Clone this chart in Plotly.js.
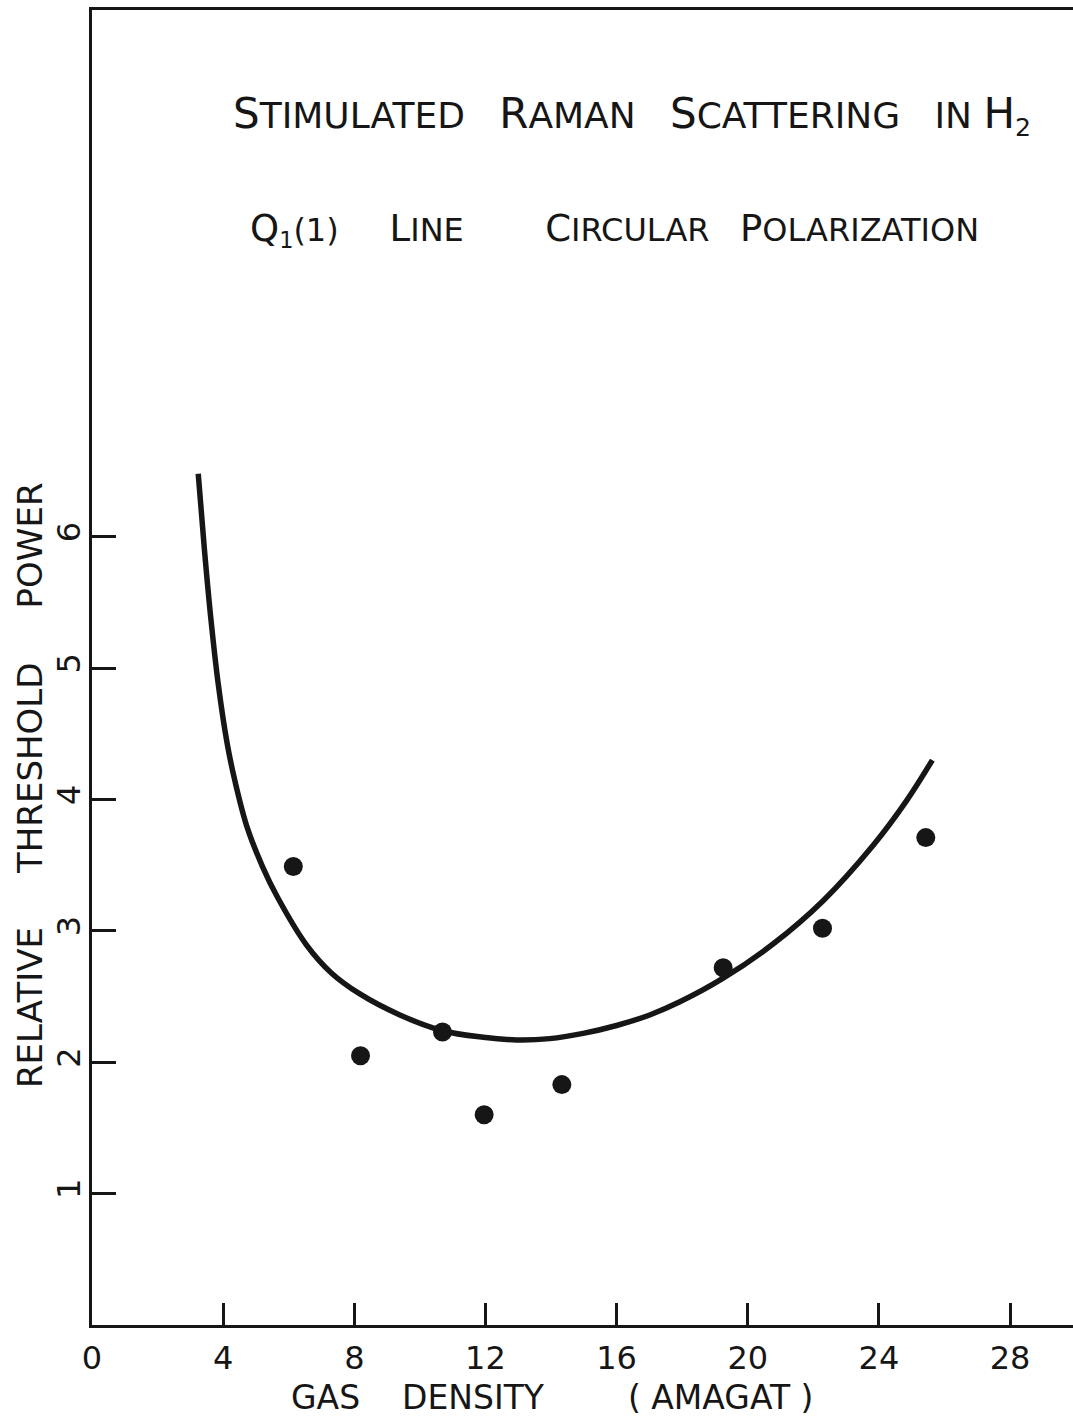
<!DOCTYPE html>
<html>
<head>
<meta charset="utf-8">
<script src="https://cdn.plot.ly/plotly-3.0.1.min.js"></script>
<style>html,body{margin:0;padding:0;background:#fff;}#chart{width:1073px;height:1417px;}</style>
</head>
<body>
<div id="chart"></div>
<script>
// Fitted curve
const curveX = [3.24, 3.43, 3.62, 3.85, 4.12, 4.37, 4.73, 5.20, 5.65, 6.55, 7.30, 8.17, 9.39, 10.69, 11.93, 12.95, 13.96, 14.98, 16.00, 17.01, 17.93, 19.25, 20.77, 22.30, 23.82, 24.84, 25.63];
const curveY = [6.48, 5.90, 5.39, 4.88, 4.43, 4.13, 3.79, 3.49, 3.26, 2.89, 2.68, 2.52, 2.36, 2.24, 2.19, 2.17, 2.18, 2.22, 2.28, 2.36, 2.46, 2.64, 2.90, 3.23, 3.65, 3.99, 4.30];
// Measured points
const pointX = [6.14, 8.19, 10.69, 11.96, 14.33, 19.25, 22.28, 25.43];
const pointY = [3.49, 2.05, 2.23, 1.60, 1.83, 2.72, 3.02, 3.71];
// Ticks
const xTicks = [0, 4, 8, 12, 16, 20, 24, 28];
const xTickText = ["0", "4", "8", "12", "16", "20", "24", "28"];
const yTicks = [1, 2, 3, 4, 5, 6];
const yTickText = ["1", "2", "3", "4", "5", "6"];
// Texts
const NB = "\u00a0";
const sp = n => NB.repeat(n);
const big1 = s => '<span style="font-size:42px">' + s + '</span>';
const big2 = s => '<span style="font-size:37px">' + s + '</span>';
const titleLine1 = big1("S") + "TIMULATED" + sp(3) + big1("R") + "AMAN" + sp(3) + big1("S") + "CATTERING" + sp(3) + "IN" + sp(1) + big1("H") + "<sub>2</sub>";
const titleLine2 = big2("Q") + "<sub>1</sub>(1)" + sp(5) + big2("L") + "INE" + sp(8) + big2("C") + "IRCULAR" + sp(3) + big2("P") + "OLARIZATION";
const xTitle = "GAS" + sp(4) + "DENSITY" + sp(8) + "(" + sp(1) + "AMAGAT" + sp(1) + ")";
const yTitle = "RELATIVE" + sp(5) + "THRESHOLD" + sp(5) + "POWER";

const FONT = "DejaVu Sans, Liberation Sans, sans-serif";
const INK = "#161616";

// pixel helpers for annotation placement (plot area: l=92, t=10, w=981, h=1315)
const px = v => (v - 92) / 981;
const py = v => (1325 - v) / 1315;

const traces = [
  {
    x: curveX, y: curveY, type: "scatter", mode: "lines",
    line: {color: INK, width: 5.5, shape: "spline", smoothing: 1},
    hoverinfo: "skip"
  },
  {
    x: pointX, y: pointY, type: "scatter", mode: "markers",
    marker: {color: INK, size: 19, line: {width: 0}},
    hoverinfo: "skip"
  }
];

const layout = {
  width: 1073, height: 1417,
  margin: {l: 92, r: 0, t: 10, b: 92, pad: 0},
  paper_bgcolor: "#ffffff", plot_bgcolor: "#ffffff",
  showlegend: false,
  font: {family: FONT, color: INK},
  title: {
    text: titleLine1, xref: "container", yref: "container",
    x: 233 / 1073, xanchor: "left", y: 1 - 103 / 1417, yanchor: "top",
    font: {size: 36, family: FONT, color: INK}
  },
  xaxis: {
    range: [0, 29.92], showgrid: false, zeroline: false,
    showline: true, linecolor: INK, linewidth: 3, mirror: true,
    ticks: "inside", ticklen: 22, tickwidth: 3, tickcolor: INK,
    tickvals: xTicks, ticktext: xTickText,
    tickfont: {size: 32, family: FONT, color: INK}, ticklabelstandoff: 3
  },
  yaxis: {
    range: [0, 10.01], showgrid: false, zeroline: false,
    showline: true, linecolor: INK, linewidth: 3,
    ticks: "inside", ticklen: 24, tickwidth: 3, tickcolor: INK,
    tickvals: yTicks, ticktext: yTickText, showticklabels: false
  },
  yaxis2: {
    overlaying: "y", matches: "y", anchor: "free", position: 0, side: "left",
    range: [0, 10.01], showgrid: false, zeroline: false, showline: false, ticks: "",
    tickvals: yTicks, ticktext: yTickText, tickangle: -90,
    tickfont: {size: 32, family: FONT, color: INK}, ticklabelstandoff: 6
  },
  annotations: [
    {text: titleLine2, xref: "paper", yref: "paper", x: px(248), y: py(205), xanchor: "left", yanchor: "top",
     showarrow: false, font: {size: 32, family: FONT, color: INK}},
    {text: xTitle, xref: "paper", yref: "paper", x: px(552), y: py(1397), xanchor: "center", yanchor: "middle",
     showarrow: false, font: {size: 33, family: FONT, color: INK}},
    {text: yTitle, xref: "paper", yref: "paper", x: px(30), y: py(785), xanchor: "center", yanchor: "middle",
     textangle: -90, showarrow: false, font: {size: 34, family: FONT, color: INK}}
  ]
};

// invisible carrier so the label axis is bound to data
traces.push({x: [1], y: [1], xaxis: "x", yaxis: "y2", type: "scatter", mode: "markers",
  marker: {opacity: 0}, hoverinfo: "skip"});

Plotly.newPlot("chart", traces, layout, {displayModeBar: false, staticPlot: true});
</script>
</body>
</html>
